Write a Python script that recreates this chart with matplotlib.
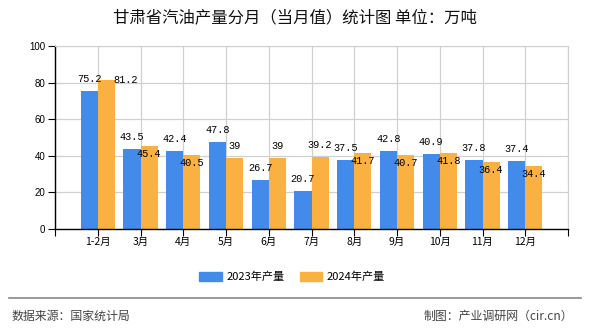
import numpy as np
import matplotlib
matplotlib.use("Agg")
import matplotlib.pyplot as plt
from matplotlib.lines import Line2D
from matplotlib.patches import Patch

plt.rcParams['font.family'] = ['Noto Sans CJK SC', 'DejaVu Sans']

# data
months = ['1-2月', '3月', '4月', '5月', '6月', '7月', '8月', '9月', '10月', '11月', '12月']
y2023 = [75.2, 43.5, 42.4, 47.8, 26.7, 20.7, 37.5, 42.8, 40.9, 37.8, 37.4]
y2024 = [81.2, 45.4, 40.5, 39, 39, 39.2, 41.7, 40.7, 41.8, 36.4, 34.4]
series_names = ['2023年产量', '2024年产量']

blue = '#428BEA'
orange = '#FAB141'

# label offsets for the 2024 series (pixels), to mimic the original layout
off2024 = [(19, 0), (0, -8), (0, -8), (0, 12), (0, 12), (0, 12),
           (0, -8), (0, -8), (0, -8), (0, -8), (0, -8)]

fig = plt.figure(figsize=(5.9, 3.3), dpi=100)
ax = fig.add_axes([55 / 590, 1 - 229 / 330, 513 / 590, 183 / 330])

x = np.arange(len(months))
w = 0.4
b1 = ax.bar(x - w / 2, y2023, w, color=blue, zorder=2)
b2 = ax.bar(x + w / 2, y2024, w, color=orange, zorder=2)

mono = 'Liberation Mono'
for xi, v in zip(x, y2023):
    ax.annotate(f"{v:g}", (xi - w / 2, v), xytext=(0, 12), textcoords='offset pixels',
                ha='center', va='center', fontsize=7.4, family=mono, color='black', zorder=3)
for xi, v, (dx, dy) in zip(x, y2024, off2024):
    ax.annotate(f"{v:g}", (xi + w / 2, v), xytext=(dx, dy), textcoords='offset pixels',
                ha='center', va='center', fontsize=7.4, family=mono, color='black', zorder=3)

ax.set_xlim(-1, len(months))
ax.set_ylim(0, 100)
ax.set_yticks(np.arange(0, 101, 20))
ax.set_xticks(np.arange(-1, len(months) + 1))
ax.set_xticklabels([''] + months + [''])
ax.tick_params(axis='y', length=5, labelsize=7, pad=2)
ax.tick_params(axis='x', length=5, labelsize=7.5, pad=1)
for lab in ax.get_yticklabels():
    lab.set_family('Liberation Sans')

ax.grid(True, color='#d0d0d0', lw=0.9, zorder=0)
ax.set_axisbelow(True)
for s in ['top', 'right']:
    ax.spines[s].set_color('#d0d0d0')
for s in ['left', 'bottom']:
    ax.spines[s].set_color('black')
    ax.spines[s].set_linewidth(1)

fig.text(0.5, 1 - 18 / 330, '甘肃省汽油产量分月（当月值）统计图 单位：万吨',
         ha='center', va='center', fontsize=11.8, color='#111111')

handles = [Patch(color=blue), Patch(color=orange)]
fig.legend(handles, series_names, loc='center', bbox_to_anchor=(0.495, 1 - 277 / 330),
           ncol=2, frameon=False, fontsize=8, handlelength=2.0, handleheight=0.8,
           handletextpad=0.4, columnspacing=1.4)

fig.add_artist(Line2D([9 / 590, 581 / 590], [1 - 298 / 330] * 2, transform=fig.transFigure,
                      color='#888888', lw=1.2))
fig.text(12 / 590, 1 - 316 / 330, '数据来源：国家统计局', ha='left', va='center',
         fontsize=8.6, color='#444444')
fig.text(573 / 590, 1 - 316 / 330, '制图：产业调研网（cir.cn）', ha='right', va='center',
         fontsize=8.6, color='#444444')

fig.savefig('out.png', dpi=100)
